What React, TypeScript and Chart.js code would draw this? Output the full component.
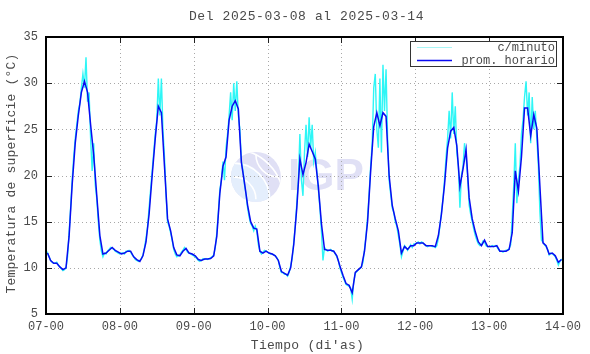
import React, { useEffect, useRef } from "react";
import { Chart, registerables } from "chart.js";

Chart.register(...registerables);

const TITLE = "Del 2025-03-08 al 2025-03-14";
const X_TITLE = "Tiempo (di'as)";
const Y_TITLE = "Temperatura de superficie (°C)";
const DAY_LABELS = ["07-00", "08-00", "09-00", "10-00", "11-00", "12-00", "13-00", "14-00"];
const Y_MIN = 5;
const Y_MAX = 35;
const Y_STEP = 5;
const LEGEND_MINUTE = "c/minuto";
const LEGEND_HOURLY = "prom. horario";

// hourly means (plotted at the middle of each hour), 7 days x 24 h
const HOURLY: number[] = [
  // 07
  11.6, 10.8, 10.5, 10.5, 10.1, 9.8, 10.0, 13.4, 19.0, 23.5, 26.5, 29.0,
  30.2, 29.0, 25.5, 22.2, 17.8, 13.5, 11.5, 11.6, 11.9, 12.2, 11.9, 11.7,
  // 08
  11.5, 11.6, 11.8, 11.8, 11.2, 10.9, 10.7, 11.3, 12.8, 15.8, 20.0, 24.0,
  27.5, 26.8, 21.0, 15.3, 14.0, 12.2, 11.4, 11.3, 11.8, 12.1, 11.6, 11.5,
  // 09
  11.3, 10.9, 10.8, 10.95, 10.95, 11.0, 11.3, 13.4, 18.1, 21.0, 22.0, 26.0,
  27.5, 28.1, 27.2, 21.4, 19.2, 16.8, 15.0, 14.3, 14.2, 11.8, 11.6, 11.8,
  // 10
  11.6, 11.5, 11.3, 10.8, 9.6, 9.4, 9.2, 10.0, 12.5, 16.5, 21.8, 20.1,
  21.4, 23.4, 22.6, 21.8, 18.8, 14.8, 12.0, 11.9, 11.9, 11.8, 11.3, 10.2,
  // 11
  9.2, 8.3, 8.1, 7.3, 9.5, 9.8, 10.1, 11.8, 15.0, 20.5, 25.3, 26.8,
  25.4, 26.8, 26.4, 20.0, 16.8, 15.3, 14.0, 11.6, 12.3, 12.0, 12.4, 12.4,
  // 12
  12.7, 12.7, 12.7, 12.4, 12.4, 12.4, 12.3, 13.5, 15.8, 19.0, 23.0, 24.8,
  25.2, 23.2, 18.8, 20.7, 22.8, 17.6, 15.3, 13.9, 12.8, 12.4, 13.0, 12.3,
  // 13
  12.3, 12.3, 12.4, 11.8, 11.8, 11.8, 12.0, 13.8, 20.5, 18.3, 22.0, 27.3,
  27.3, 24.3, 26.6, 25.1, 18.8, 12.7, 12.4, 11.5, 11.6, 11.3, 10.6, 10.9,
];

// per-minute series, every half hour
const MINUTE: number[] = [
  // 07
  11.9, 11.6, 11.2, 10.8, 10.6, 10.5, 10.5, 10.6, 10.3, 10.1, 9.9, 9.7,
  9.8, 10.0, 11.2, 13.8, 16.5, 19.5, 22.0, 24.0, 25.5, 27.0, 27.8, 29.5,
  31.0, 29.5, 32.8, 28.0, 29.0, 24.0, 20.5, 23.5, 19.0, 17.5, 15.0, 13.0,
  11.8, 11.2, 11.6, 11.5, 11.8, 12.0, 12.2, 12.1, 12.0, 11.8, 11.7, 11.6,
  // 08
  11.5, 11.6, 11.6, 11.5, 11.8, 11.8, 11.9, 11.7, 11.4, 11.2, 10.9, 10.8,
  10.7, 10.8, 11.0, 11.4, 12.2, 13.2, 14.5, 16.5, 18.5, 20.5, 22.5, 24.5,
  26.0, 30.5, 26.5, 30.5, 25.0, 22.0, 18.0, 15.0, 14.5, 13.8, 13.0, 12.0,
  11.5, 11.2, 11.3, 11.4, 11.7, 11.9, 12.2, 12.0, 11.7, 11.6, 11.5, 11.4,
  // 09
  11.3, 11.2, 11.0, 10.8, 10.7, 10.8, 11.0, 10.9, 11.0, 10.9, 11.0, 11.1,
  11.2, 11.4, 12.2, 13.8, 16.0, 18.5, 19.5, 21.5, 19.5, 23.0, 24.5, 26.5,
  29.0, 26.0, 30.0, 27.0, 30.2, 26.5, 25.0, 21.5, 20.5, 19.0, 18.0, 16.5,
  15.5, 14.8, 14.5, 14.0, 14.5, 14.0, 12.5, 11.8, 11.5, 11.7, 11.9, 11.8,
  // 10
  11.7, 11.6, 11.5, 11.5, 11.4, 11.3, 11.1, 10.8, 10.0, 9.5, 9.5, 9.3,
  9.3, 9.1, 9.5, 10.2, 11.0, 12.8, 14.5, 17.0, 19.5, 24.5, 19.5, 17.8,
  22.5, 25.5, 22.0, 26.3, 23.0, 25.5, 21.5, 22.5, 20.5, 18.5, 16.5, 14.0,
  10.8, 12.2, 12.0, 11.8, 11.9, 12.0, 11.8, 11.8, 11.5, 11.2, 10.8, 10.0,
  // 11
  9.5, 9.0, 8.6, 8.2, 8.1, 8.0, 7.8, 6.6, 8.5, 9.4, 9.6, 9.8,
  9.9, 10.1, 10.6, 12.0, 13.5, 15.5, 18.0, 21.0, 23.5, 29.5, 31.0, 25.0,
  23.0, 30.5, 22.5, 32.0, 27.0, 31.5, 24.0, 19.5, 18.0, 16.5, 16.0, 15.0,
  14.5, 13.5, 12.5, 11.2, 11.8, 12.4, 12.2, 11.9, 12.2, 12.5, 12.2, 12.6,
  // 12
  12.6, 12.7, 12.8, 12.6, 12.8, 12.7, 12.5, 12.4, 12.3, 12.4, 12.4, 12.3,
  12.3, 12.2, 12.4, 13.2, 14.5, 16.0, 17.5, 19.5, 22.0, 24.0, 27.0, 24.0,
  29.0, 24.5, 27.5, 22.5, 21.0, 16.5, 20.0, 21.0, 23.5, 22.0, 20.0, 16.8,
  15.8, 15.0, 14.2, 13.5, 13.0, 12.6, 12.4, 12.5, 12.9, 12.8, 12.4, 12.3,
  // 13
  12.3, 12.3, 12.4, 12.3, 12.4, 12.3, 12.0, 11.8, 11.8, 11.7, 11.8, 11.9,
  11.9, 12.1, 12.5, 15.5, 19.0, 23.5, 17.0, 19.5, 21.0, 24.5, 26.0, 28.5,
  30.2, 26.5, 29.0, 23.5, 28.5, 25.0, 27.0, 24.0, 21.0, 16.0, 13.0, 12.8,
  12.5, 12.3, 12.0, 11.4, 11.6, 11.5, 11.4, 11.2, 10.8, 10.3, 10.7, 10.9,
  // 14-00
  10.9,
];

const MONO = '"Liberation Mono", "DejaVu Sans Mono", monospace';
const TEXT_COLOR = "#4a4a4a";
const BLUE = "#0a0af2";
const CYAN = "#2ef6f6";

function drawLogo(ctx: CanvasRenderingContext2D, a: any) {
  const w = a.right - a.left;
  const h = a.bottom - a.top;
  const cx = a.left + w * 0.406;
  const cy = a.top + h * 0.505;
  const r = h * 0.09;
  ctx.save();
  ctx.beginPath();
  ctx.arc(cx, cy, r, 0, Math.PI * 2);
  ctx.fillStyle = "#e0e0f5";
  ctx.fill();
  ctx.clip();
  ctx.beginPath();
  ctx.arc(cx - r * 0.9, cy + r * 0.9, r * 1.5, 0, Math.PI * 2);
  ctx.fillStyle = "#e4eefc";
  ctx.fill();
  ctx.strokeStyle = "#ffffff";
  ctx.lineWidth = 1.6;
  for (let k = 0; k < 3; k++) {
    ctx.beginPath();
    ctx.arc(cx - r * 0.9, cy + r * 0.9, r * (0.9 + k * 0.55), -Math.PI * 0.5, 0);
    ctx.stroke();
  }
  ctx.beginPath();
  ctx.arc(cx + r * 0.9, cy - r * 0.9, r * 0.9, Math.PI * 0.5, Math.PI);
  ctx.stroke();
  ctx.restore();

  ctx.save();
  ctx.fillStyle = "#e0e0f5";
  ctx.font = 'bold 44px "Liberation Sans", Arial, sans-serif';
  ctx.textBaseline = "middle";
  ctx.textAlign = "left";
  ctx.fillText("IGP", a.left + w * 0.468, cy + 1);
  ctx.restore();
}

const framePlugin = {
  id: "frame",
  beforeDatasetsDraw(chart: any) {
    const { ctx, chartArea: a, scales } = chart;
    const xs = scales.x;
    const ys = scales.y;
    ctx.save();
    drawLogo(ctx, a);
    ctx.strokeStyle = "#a8a8a8";
    ctx.lineWidth = 1;
    ctx.setLineDash([1, 3]);
    for (let d = 1; d < DAY_LABELS.length - 1; d++) {
      const x = Math.round(xs.getPixelForValue(d)) + 0.5;
      ctx.beginPath();
      ctx.moveTo(x, a.top);
      ctx.lineTo(x, a.bottom);
      ctx.stroke();
    }
    for (let v = Y_MIN + Y_STEP; v < Y_MAX; v += Y_STEP) {
      const y = Math.round(ys.getPixelForValue(v)) + 0.5;
      ctx.beginPath();
      ctx.moveTo(a.left, y);
      ctx.lineTo(a.right, y);
      ctx.stroke();
    }
    ctx.restore();
  },
  afterDatasetsDraw(chart: any) {
    const { ctx, chartArea: a, scales, height } = chart;
    const xs = scales.x;
    const ys = scales.y;
    ctx.save();
    // inward tick marks
    ctx.strokeStyle = "#222";
    ctx.lineWidth = 1;
    ctx.setLineDash([]);
    const tl = 6;
    for (let d = 1; d < DAY_LABELS.length - 1; d++) {
      const x = Math.round(xs.getPixelForValue(d)) + 0.5;
      ctx.beginPath();
      ctx.moveTo(x, a.top);
      ctx.lineTo(x, a.top + tl);
      ctx.moveTo(x, a.bottom);
      ctx.lineTo(x, a.bottom - tl);
      ctx.stroke();
    }
    for (let v = Y_MIN + Y_STEP; v < Y_MAX; v += Y_STEP) {
      const y = Math.round(ys.getPixelForValue(v)) + 0.5;
      ctx.beginPath();
      ctx.moveTo(a.left, y);
      ctx.lineTo(a.left + tl, y);
      ctx.moveTo(a.right, y);
      ctx.lineTo(a.right - tl, y);
      ctx.stroke();
    }
    // border
    ctx.strokeStyle = "#000";
    ctx.lineWidth = 2;
    ctx.strokeRect(a.left, a.top, a.right - a.left, a.bottom - a.top);

    // legend
    const lw = 146;
    const lh = 25;
    const lx = a.right - 7 - lw;
    const ly = a.top + 4;
    ctx.fillStyle = "#fff";
    ctx.fillRect(lx, ly, lw, lh);
    ctx.strokeStyle = "#333";
    ctx.lineWidth = 1;
    ctx.strokeRect(lx + 0.5, ly + 0.5, lw, lh);
    const row1 = ly + 6.5;
    const row2 = ly + 19.5;
    ctx.lineWidth = 1;
    ctx.strokeStyle = "#a8f6f6";
    ctx.beginPath();
    ctx.moveTo(lx + 7, row1);
    ctx.lineTo(lx + 42, row1);
    ctx.stroke();
    ctx.lineWidth = 1.5;
    ctx.strokeStyle = BLUE;
    ctx.beginPath();
    ctx.moveTo(lx + 7, row2);
    ctx.lineTo(lx + 42, row2);
    ctx.stroke();
    ctx.fillStyle = TEXT_COLOR;
    ctx.font = "12px " + MONO;
    ctx.textAlign = "right";
    ctx.textBaseline = "middle";
    ctx.fillText(LEGEND_MINUTE, lx + lw - 1, row1);
    ctx.fillText(LEGEND_HOURLY, lx + lw - 1, row2);

    // titles
    ctx.textAlign = "center";
    ctx.font = "13px " + MONO;
    (ctx as any).letterSpacing = "0.6px";
    ctx.fillText(TITLE, (a.left + a.right) / 2 + 2, 17);
    (ctx as any).letterSpacing = "0.3px";
    ctx.fillText(X_TITLE, (a.left + a.right) / 2 + 3, height - 8);
    (ctx as any).letterSpacing = "0.2px";
    ctx.translate(12, (a.top + a.bottom) / 2 - 2);
    ctx.rotate(-Math.PI / 2);
    ctx.fillText(Y_TITLE, 0, 0);
    ctx.restore();
  },
};

export default function App() {
  const ref = useRef<HTMLCanvasElement | null>(null);
  useEffect(() => {
    document.body.style.margin = "0";
    const canvas = ref.current;
    if (!canvas) return;
    const hourlyPts = HOURLY.map((v, i) => ({ x: (i + 0.5) / 24, y: v }));
    const minutePts = MINUTE.map((v, i) => ({ x: i / 48, y: v }));
    const chart = new Chart(canvas, {
      type: "line",
      data: {
        datasets: [
          {
            label: LEGEND_HOURLY,
            data: hourlyPts,
            borderColor: BLUE,
            borderWidth: 1.5,
            pointRadius: 0,
            tension: 0,
            order: 0,
          },
          {
            label: LEGEND_MINUTE,
            data: minutePts,
            borderColor: CYAN,
            borderWidth: 1.4,
            pointRadius: 0,
            tension: 0,
            order: 1,
          },
        ],
      },
      options: {
        responsive: false,
        devicePixelRatio: 1,
        animation: false,
        parsing: false,
        layout: { padding: { top: 37, right: 27, left: 0, bottom: 0 } },
        plugins: {
          legend: { display: false },
          title: { display: false },
          tooltip: { enabled: false },
        },
        scales: {
          x: {
            type: "linear",
            min: 0,
            max: DAY_LABELS.length - 1,
            afterFit: (s: any) => {
              s.height = 40;
            },
            afterBuildTicks: (s: any) => {
              s.ticks = DAY_LABELS.map((_, i) => ({ value: i }));
            },
            ticks: {
              autoSkip: false,
              maxRotation: 0,
              padding: 6,
              color: TEXT_COLOR,
              font: { family: MONO, size: 12 },
              callback: (v: any) => DAY_LABELS[Math.round(Number(v))] ?? "",
            },
            grid: { display: false, drawTicks: false },
            border: { display: false },
          },
          y: {
            type: "linear",
            min: Y_MIN,
            max: Y_MAX,
            afterFit: (s: any) => {
              s.width = 46;
            },
            ticks: {
              stepSize: Y_STEP,
              padding: 8,
              color: TEXT_COLOR,
              font: { family: MONO, size: 12 },
            },
            grid: { display: false, drawTicks: false },
            border: { display: false },
          },
        },
      },
      plugins: [framePlugin],
    });
    return () => chart.destroy();
  }, []);
  return (
    <div style={{ width: 590, height: 354 }}>
      <canvas ref={ref} width={590} height={354} />
    </div>
  );
}
